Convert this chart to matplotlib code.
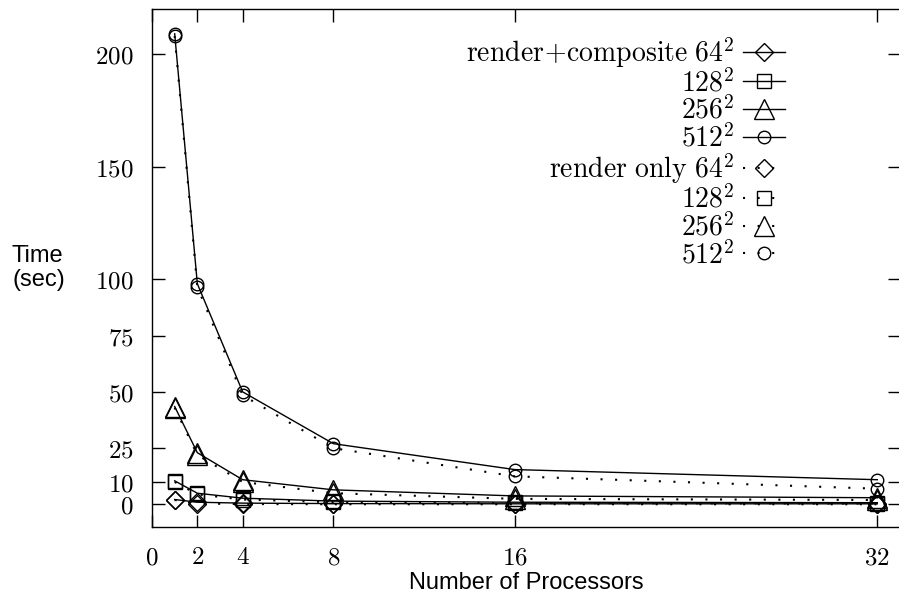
import matplotlib
matplotlib.use("Agg")
import matplotlib.pyplot as plt
from matplotlib.legend_handler import HandlerLine2D

plt.rcParams['mathtext.fontset'] = 'cm'

procs = [1, 2, 4, 8, 16, 32]

# render + composite
comp64 = [2.2, 1.0, 0.6, 0.4, 0.3, 0.3]
comp128 = [10.5, 5.0, 2.8, 1.5, 1.0, 0.8]
comp256 = [43.5, 23.0, 11.0, 6.5, 3.8, 3.0]
comp512 = [209, 98, 50, 27, 15.5, 11]

# render only
rend64 = [2.0, 0.4, 0.2, 0.1, 0.1, 0.1]
rend128 = [10.0, 4.5, 2.2, 1.0, 0.6, 0.4]
rend256 = [43.0, 22.0, 10.0, 5.0, 2.5, 2.0]
rend512 = [208, 96.5, 48.5, 25, 12.5, 7]

xticks = [0, 2, 4, 8, 16, 32]
yticks = [0, 10, 25, 50, 75, 100, 150, 200]


class LeftMarker(HandlerLine2D):
    # gnuplot puts the point symbol left of the line sample's middle
    def get_xdata(self, legend, xdescent, ydescent, width, height, fontsize):
        return [-xdescent, -xdescent + width], [-xdescent + 0.33 * width]


fig = plt.figure(figsize=(8.99, 6.04), dpi=100)
ax = fig.add_axes([152/899, 1-527/604, 748/899, 518/604])

dot = (0, (1, 6))
series = [
    (comp64, 'D', 9.2, '-', r'$\mathrm{render\!+\!composite}\ 64^2$'),
    (comp128, 's', 9.4, '-', r'$128^2$'),
    (comp256, '^', 14, '-', r'$256^2$'),
    (comp512, 'o', 9, '-', r'$512^2$'),
    (rend64, 'D', 9.2, dot, r'$\mathrm{render\ only}\ 64^2$'),
    (rend128, 's', 9.4, dot, r'$128^2$'),
    (rend256, '^', 14, dot, r'$256^2$'),
    (rend512, 'o', 9, dot, r'$512^2$'),
]
for vals, mk, ms, ls, lab in series:
    lw = 1.0 if ls == '-' else 1.5
    ax.plot(procs, vals, color='black', linestyle=ls, linewidth=lw,
            marker=mk, markersize=ms, markerfacecolor='none',
            markeredgecolor='black', markeredgewidth=1.0, label=lab)

ax.set_xlim(0, 33)
ax.set_ylim(-10, 220)
ax.set_xticks(xticks)
ax.set_xticklabels(['$%d$' % v for v in xticks])
ax.set_yticks(yticks)
ax.set_yticklabels(['$%d$' % v for v in yticks])
ax.tick_params(direction='in', length=9, width=1.0, labelsize=18,
               top=True, right=True, pad=13)
ax.spines['right'].set_visible(False)
for s in ['left', 'top', 'bottom']:
    ax.spines[s].set_linewidth(1.0)

fig.text(526/899, 1-583/604, 'Number of Processors', ha='center', va='center',
         fontsize=17, family='Liberation Sans')
fig.text(12/899, 1-268/604, 'Time\n(sec)', ha='left', va='center',
         fontsize=17, family='Liberation Sans', linespacing=1.15)

leg = ax.legend(loc='upper right', bbox_to_anchor=(0.846, 0.95),
                frameon=False, markerfirst=False, fontsize=20,
                handlelength=1.5, handletextpad=0.32, labelspacing=-0.035,
                borderpad=0, borderaxespad=0,
                handler_map={plt.Line2D: LeftMarker()})

fig.savefig('out.png', dpi=100)
